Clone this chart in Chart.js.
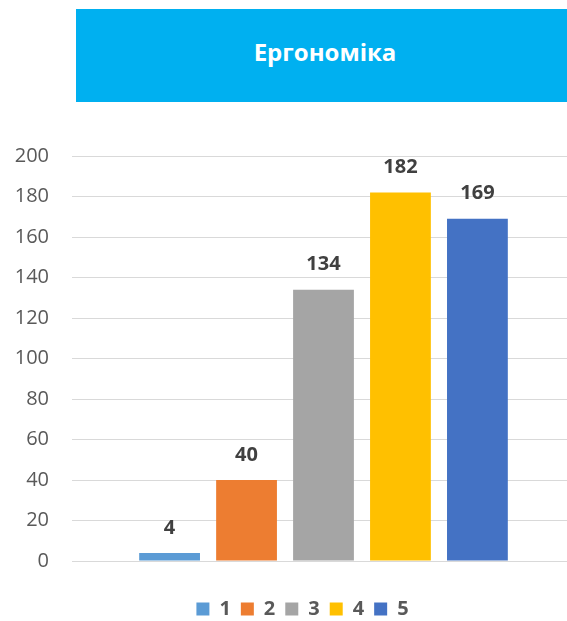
<!DOCTYPE html>
<html>
<head>
<meta charset="utf-8">
<script src="https://cdn.jsdelivr.net/npm/chart.js@4"></script>
<style>
  body { margin: 0; background: #fff; }
  #wrap { position: relative; width: 567px; height: 621px; overflow: hidden; }
  #title {
    position: absolute; left: 76px; top: 9px; width: 484px; height: 85px;
    padding-left: 7px; padding-bottom: 8px;
    background: #00B0F0; color: #fff; font: bold 24px "Open Sans", sans-serif;
    display: flex; align-items: center; justify-content: center;
  }
</style>
</head>
<body>
<div id="wrap">
  <canvas id="mycanvas" width="577" height="621"></canvas>
  <div id="title">Ергономіка</div>
</div>
<script>
var series = ['1', '2', '3', '4', '5'];
var values = [4, 40, 134, 182, 169];
var colors = ['#5B9BD5', '#ED7D31', '#A5A5A5', '#FFC000', '#4472C4'];
var yTicks = [0, 20, 40, 60, 80, 100, 120, 140, 160, 180, 200];

var datasets = [];
for (var i in series) {
  datasets.push({
    label: series[i],
    data: [values[i]],
    backgroundColor: colors[i],
    categoryPercentage: 0.765,
    barPercentage: 0.79
  });
}

// values above each bar
var barLabels = {
  id: 'barLabels',
  afterDatasetsDraw: function(chart) {
    var ctx = chart.ctx;
    ctx.save();
    ctx.font = 'bold 20px "Open Sans", sans-serif';
    ctx.fillStyle = '#404040';
    ctx.textAlign = 'center';
    ctx.textBaseline = 'middle';
    chart.data.datasets.forEach(function(ds, d) {
      chart.getDatasetMeta(d).data.forEach(function(bar, j) {
        ctx.fillText(ds.data[j], bar.x, bar.y - 25);
      });
    });
    ctx.restore();
  }
};

// legend sits a bit right of centre in the original
var legendShift = {
  id: 'legendShift',
  afterLayout: function(chart) {
    var lg = chart.legend;
    lg.left += 15;
    lg.right += 15;
    if (lg.legendHitBoxes) {
      lg.legendHitBoxes.forEach(function(h) { h.left += 15; });
    }
  }
};

var ctx = document.getElementById('mycanvas');
var barGraph = new Chart(ctx, {
  type: 'bar',
  data: { labels: [''], datasets: datasets },
  options: {
    responsive: false,
    animation: false,
    layout: { padding: { left: 0, right: 2, top: 156, bottom: -8 } },
    plugins: {
      title: { display: false },
      tooltip: { enabled: false },
      legend: {
        position: 'bottom',
        labels: {
          boxWidth: 13, boxHeight: 13, padding: 10,
          color: '#595959',
          font: { family: 'Open Sans', size: 20, weight: 'bold' }
        }
      }
    },
    scales: {
      x: {
        grid: { display: false },
        border: { display: false },
        ticks: { display: false },
        afterFit: function(axis) { axis.height = 28; }
      },
      y: {
        min: 0, max: 200,
        afterBuildTicks: function(axis) {
          axis.ticks = yTicks.map(function(v) { return { value: v }; });
        },
        afterFit: function(axis) { axis.width = 72; },
        grid: { color: '#D9D9D9', drawTicks: false },
        border: { display: false },
        ticks: {
          color: '#595959', padding: 23,
          font: { family: 'Open Sans', size: 20 }
        }
      }
    }
  },
  plugins: [barLabels, legendShift]
});
</script>
</body>
</html>
